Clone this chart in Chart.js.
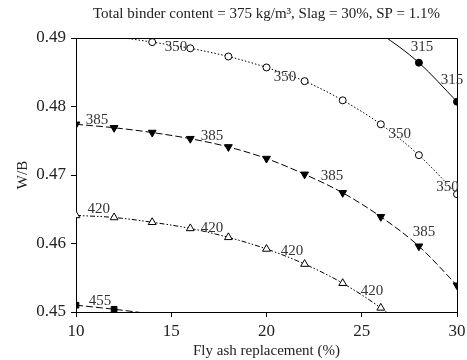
<!DOCTYPE html>
<html>
<head>
<meta charset="utf-8">
<script src="https://cdn.jsdelivr.net/npm/chart.js@4"></script>
<style>
  body { margin: 0; background: #fff; }
</style>
</head>
<body>
<canvas id="myChart" width="467" height="360"></canvas>
<script>
// fly ash replacement (%)
var xValues = [10, 12, 14, 16, 18, 20, 22, 24, 26, 28, 30];

// W/B contours for each 28-day strength level (values outside 0.45-0.49 are clipped)
var w315 = [null, null, null, null, null, null, null, 0.4940, 0.4906, 0.4864, 0.4807];
var w350 = [0.4908, 0.4902, 0.4894, 0.4885, 0.4873, 0.4857, 0.4837, 0.4809, 0.4774, 0.4729, 0.4672];
var w385 = [0.4774, 0.4769, 0.4762, 0.4753, 0.4741, 0.4724, 0.4701, 0.4674, 0.4639, 0.4596, 0.4539];
var w420 = [0.4641, 0.4638, 0.4631, 0.4622, 0.4609, 0.4592, 0.4570, 0.4542, 0.4506, 0.4462, 0.4410];
var w455 = [0.4510, 0.4504, 0.4497, 0.4489, null, null, null, null, null, null, null];

// contour labels (text, x, W/B)
var labelText = ['315', '315', '350', '350', '350', '350', '385', '385', '385', '385', '420', '420', '420', '420', '455'];
var labelX = [28.16, 29.74, 15.25, 20.97, 27.0, 29.5, 11.1, 17.14, 23.44, 28.27, 11.2, 17.14, 21.34, 25.54, 11.26];
var labelY = [0.4887, 0.4839, 0.4887, 0.4843, 0.4760, 0.4682, 0.4780, 0.4757, 0.4699, 0.4617, 0.4650, 0.4623, 0.4589, 0.4531, 0.4516];

var titleText = 'Total binder content = 375 kg/m³, Slag = 30%, SP = 1.1%';
var serif = '"Liberation Serif", "Times New Roman", serif';
var yMin = 0.45, yMax = 0.49;

function toPoints(arr) {
  return xValues.map((x, i) => ({ x: x, y: arr[i] }));
}

var frame = {
  id: 'frame',
  afterDatasetsDraw(chart) {
    var a = chart.chartArea;
    var ctx = chart.ctx;
    var sx = chart.scales.x, sy = chart.scales.y;
    ctx.save();
    ctx.strokeStyle = '#000';
    ctx.lineWidth = 1;
    ctx.beginPath();
    ctx.moveTo(a.left, a.top + 0.5);
    ctx.lineTo(a.right + 0.5, a.top + 0.5);
    ctx.lineTo(a.right + 0.5, a.bottom);
    ctx.stroke();
    // title centred over the plot
    ctx.font = '15px ' + serif;
    ctx.fillStyle = '#222';
    ctx.textAlign = 'center';
    ctx.textBaseline = 'middle';
    ctx.fillText(titleText, (a.left + a.right) / 2, 14);
    // contour labels
    ctx.fillStyle = '#333';
    labelText.forEach((t, i) => {
      ctx.fillText(t, sx.getPixelForValue(labelX[i]), sy.getPixelForValue(labelY[i]));
    });
    ctx.restore();
  }
};

function ds(data, style, fill, dash, rot, r) {
  return {
    data: toPoints(data),
    borderColor: '#000',
    borderWidth: 1,
    borderDash: dash,
    pointStyle: style,
    pointRotation: rot || 0,
    pointRadius: (c) => {
      var v = c.raw && c.raw.y;
      return (v > yMax || v < yMin) ? 0 : (r || 3.5);
    },
    pointBackgroundColor: fill,
    pointBorderColor: '#000',
    pointBorderWidth: 1,
    cubicInterpolationMode: 'monotone',
    spanGaps: false
  };
}

new Chart('myChart', {
  type: 'line',
  data: {
    datasets: [
      ds(w315, 'circle', '#000', []),
      ds(w350, 'circle', '#fff', [1.5, 2]),
      ds(w385, 'triangle', '#000', [7, 3], 180, 4.5),
      ds(w420, 'triangle', '#fff', [5, 2, 1.5, 2, 1.5, 2], 0, 4.5),
      ds(w455, 'rect', '#000', [7, 3], 0, 4)
    ]
  },
  options: {
    responsive: false,
    animation: false,
    devicePixelRatio: 1,
    layout: { padding: { left: 14, right: 0, top: 38, bottom: 0 } },
    plugins: {
      legend: { display: false },
      tooltip: { enabled: false },
      title: { display: false }
    },
    scales: {
      x: {
        type: 'linear',
        min: 10,
        max: 30,
        ticks: { stepSize: 5, color: '#222', font: { family: serif, size: 17 }, padding: 4 },
        grid: { drawOnChartArea: false, drawTicks: true, tickLength: 5, color: '#000' },
        border: { display: true, color: '#000', width: 1 },
        title: { display: true, text: 'Fly ash replacement (%)', color: '#222', font: { family: serif, size: 15 }, padding: { top: 0, bottom: 0 } },
        afterFit(scale) {
          scale.height = 48;
          scale.paddingRight = 10;
        }
      },
      y: {
        min: yMin,
        max: yMax,
        ticks: {
          stepSize: 0.01,
          color: '#222',
          font: { family: serif, size: 17 },
          padding: 5,
          callback: (v) => v.toFixed(2)
        },
        grid: { drawOnChartArea: false, drawTicks: true, tickLength: 5, color: '#000' },
        border: { display: true, color: '#000', width: 1 },
        title: { display: true, text: 'W/B', color: '#222', font: { family: serif, size: 15 }, padding: { top: 0, bottom: 4 } },
        afterFit(scale) { scale.width = 62; }
      }
    }
  },
  plugins: [frame]
});
</script>
</body>
</html>
